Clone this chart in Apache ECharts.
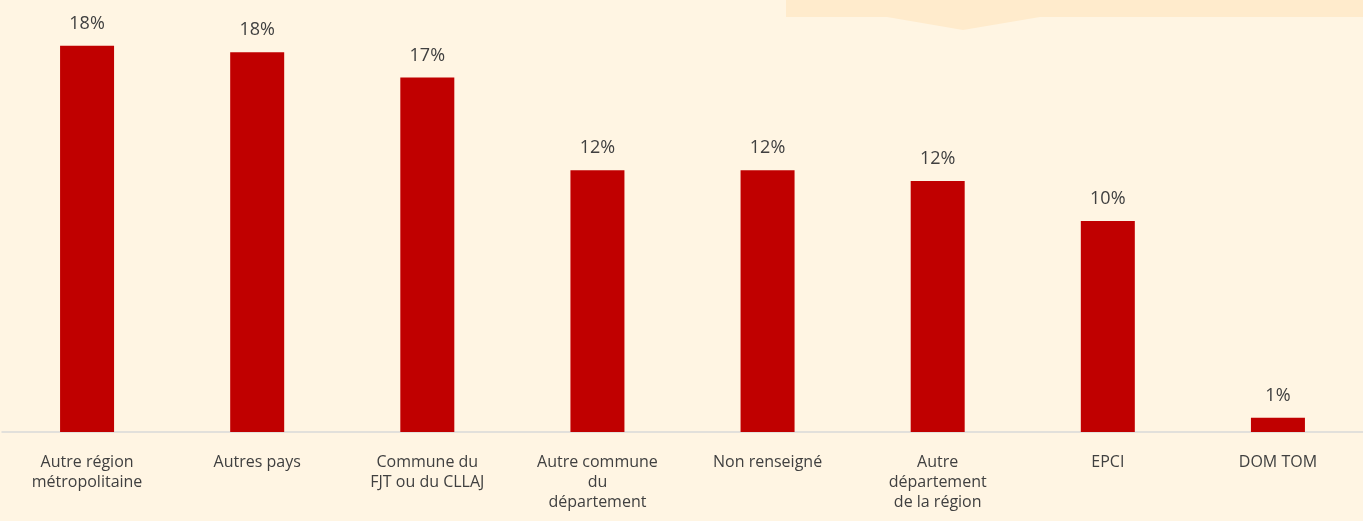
<!DOCTYPE html>
<html>
<head>
<meta charset="utf-8">
<script src="https://cdn.jsdelivr.net/npm/echarts@6/dist/echarts.min.js"></script>
<style>
html, body { margin: 0; padding: 0; background: #FFF5E3; }
#chart { width: 1363px; height: 521px; }
</style>
</head>
<body>
<div id="chart"></div>
<script>
// categories (line breaks as in the original)
var categories = [
    'Autre région\nmétropolitaine',
    'Autres pays',
    'Commune du\nFJT ou du CLLAJ',
    'Autre commune\ndu\ndépartement',
    'Non renseigné',
    'Autre\ndépartement\nde la région',
    'EPCI',
    'DOM TOM'
];
// share of young people, in %
var values = [18.3, 18.0, 16.8, 12.4, 12.4, 11.9, 10.0, 0.68];

var myChart = echarts.init(document.getElementById('chart'));
var option = {
    backgroundColor: '#FFF5E3',
    animation: false,
    textStyle: { fontFamily: 'Open Sans' },
    grid: {
        left: 2,
        width: 1364,
        top: 10,
        bottom: 89
    },
    xAxis: {
        type: 'category',
        data: categories,
        axisLine: { lineStyle: { color: '#D9D9D9', width: 1.5 } },
        axisTick: { show: false },
        axisLabel: {
            interval: 0,
            color: '#404040',
            fontSize: 16,
            lineHeight: 20,
            margin: 20
        }
    },
    yAxis: {
        type: 'value',
        min: 0,
        max: 20,
        show: false,
        splitLine: { show: false }
    },
    series: [
        {
            type: 'bar',
            data: values,
            barWidth: 54,
            itemStyle: { color: '#C00000' },
            label: {
                show: true,
                position: 'top',
                distance: 13,
                color: '#404040',
                fontSize: 18,
                formatter: function (p) {
                    return Math.round(p.value) + '%';
                }
            }
        }
    ],
    graphic: [
        {
            type: 'polygon',
            silent: true,
            shape: {
                points: [[786, 0], [1363, 0], [1363, 17], [1040, 17], [963, 30], [887, 17], [786, 17]]
            },
            style: { fill: '#FFEBCC' }
        }
    ]
};
myChart.setOption(option);
</script>
</body>
</html>
